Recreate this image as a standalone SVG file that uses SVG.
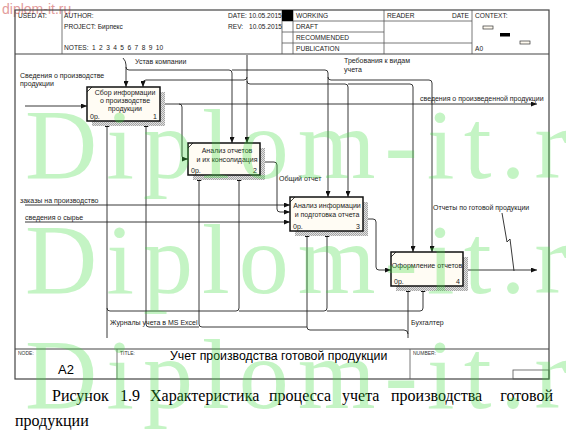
<svg xmlns="http://www.w3.org/2000/svg" width="566" height="443" viewBox="0 0 566 443">
<style>
.t{font-family:"Liberation Sans",Arial,sans-serif;font-size:7px;fill:#1a1a1a}
.h{font-family:"Liberation Sans",Arial,sans-serif;font-size:6.6px;fill:#1a1a1a}
.s{font-family:"Liberation Sans",Arial,sans-serif;font-size:5px;fill:#333}
.c{font-family:"Liberation Serif","Times New Roman",serif;font-size:16px;fill:#000}
.fr{fill:none;stroke:#444;stroke-width:1.2}
.ln{fill:none;stroke:#555;stroke-width:0.8}
.box{fill:#fffcf4;stroke:#111;stroke-width:1.5}
.a{fill:none;stroke:#222;stroke-width:0.9;marker-end:url(#ah)}
.p{fill:none;stroke:#222;stroke-width:0.9}
.wm{font-family:"Liberation Serif","Times New Roman",serif;font-size:100px;letter-spacing:9px;fill:#3cdc3c;fill-opacity:0.3}
</style>
<defs>
<marker id="ah" markerUnits="userSpaceOnUse" markerWidth="6" markerHeight="5" refX="6" refY="2.5" orient="auto"><path d="M0,0 L6,2.5 L0,5 z" fill="#111"/></marker>
<pattern id="hatch" width="2" height="2" patternUnits="userSpaceOnUse"><rect width="2" height="2" fill="#e2e2e2"/><rect width="1" height="1" fill="#a5a5a5"/><rect x="1" y="1" width="1" height="1" fill="#a5a5a5"/></pattern>
</defs>
<rect width="566" height="443" fill="#ffffff"/>
<text x="2" y="14" font-family="'Liberation Sans',Arial,sans-serif" font-size="14" fill="#e39c9c">diplom-it.ru</text>
<g id="frame">
<rect x="15" y="10" width="534" height="369" fill="#fffaf0" class="fr"/>
<line x1="15" y1="54" x2="549" y2="54" class="fr"/>
<line x1="15" y1="349" x2="549" y2="349" class="fr"/>
<line x1="62" y1="10" x2="62" y2="54" class="ln"/>
<line x1="282" y1="10" x2="282" y2="54" class="ln"/>
<line x1="293" y1="10" x2="293" y2="54" class="ln"/>
<line x1="384" y1="10" x2="384" y2="54" class="ln"/>
<line x1="472" y1="10" x2="472" y2="54" class="ln"/>
<line x1="282" y1="21" x2="472" y2="21" class="ln"/>
<line x1="282" y1="32" x2="384" y2="32" class="ln"/>
<line x1="282" y1="43" x2="472" y2="43" class="ln"/>
<rect x="282" y="10" width="11" height="11" fill="#000"/>
<text x="18" y="18" class="h">USED AT:</text>
<text x="64" y="18" class="h">AUTHOR:</text>
<text x="64" y="28.5" class="h">PROJECT: Бирпекс</text>
<text x="64" y="50" class="h" word-spacing="1.6">NOTES: 1 2 3 4 5 6 7 8 9 10</text>
<text x="228" y="18" class="h">DATE: 10.05.2015</text>
<text x="228" y="28.5" class="h">REV: <tspan x="249">10.05.2015</tspan></text>
<text x="296" y="18" class="h">WORKING</text>
<text x="296" y="29" class="h">DRAFT</text>
<text x="296" y="40" class="h">RECOMMENDED</text>
<text x="296" y="51" class="h">PUBLICATION</text>
<text x="387" y="18" class="h">READER</text>
<text x="469" y="18" class="h" text-anchor="end">DATE</text>
<text x="475" y="18" class="h">CONTEXT:</text>
<text x="475" y="51" class="h">A0</text>
<rect x="483" y="26" width="10" height="3" fill="#fffaf0" stroke="#333" stroke-width="0.7"/>
<rect x="500" y="33" width="10" height="3.5" fill="#000"/>
<rect x="520" y="41" width="10" height="3" fill="#fffaf0" stroke="#333" stroke-width="0.7"/>
<line x1="117" y1="349" x2="117" y2="379" class="ln"/>
<line x1="410" y1="349" x2="410" y2="379" class="ln"/>
<text x="18" y="355" class="s">NODE:</text>
<text x="120" y="355" class="s">TITLE:</text>
<text x="413" y="355" class="s">NUMBER:</text>
<text x="58" y="374" font-family="'Liberation Sans',Arial,sans-serif" font-size="13" fill="#000">A2</text>
<text x="170" y="360" font-family="'Liberation Sans',Arial,sans-serif" font-size="12.3" fill="#000">Учет производства готовой  продукции</text>
<rect x="513" y="370" width="36" height="9" fill="none" stroke="#555" stroke-width="0.8"/>
</g>
<g id="connectors">
<path class="a" d="M25,106 H87"/>
<path class="a" d="M160,104 H537"/>
<path class="a" d="M179,104 Q182,104 182,107 V156 Q182,159 185,159 H188"/>
<path class="a" d="M260,162 H274 Q277,162 277,165 V209 Q277,212 280,212 H290"/>
<path class="a" d="M25,205 H290"/>
<path class="a" d="M25,222 H290"/>
<path class="a" d="M363,219 H373 Q376,219 376,222 V267 Q376,270 379,270 H391"/>
<path class="a" d="M463,270 H537"/>
<path class="p" d="M502,213 L507,242 L510,239 L514,271"/>
<path class="a" d="M123,58 Q126,61 126,65 V87"/>
<path class="a" d="M126,67 Q126,70 129,70 H229 Q232,70 232,73 V143"/>
<path class="a" d="M232,70 H325 Q328,70 328,73 V197"/>
<path class="a" d="M328,77 Q328,80 331,80 H429 Q432,80 432,83 V252"/>
<path class="a" d="M247,55 V143"/>
<path class="a" d="M247,77 Q247,80 244,80 H146 Q143,80 143,83 V87"/>
<path class="a" d="M247,81 Q247,84 250,84 H345 Q348,84 348,87 V197"/>
<path class="a" d="M348,84 H410 Q413,84 413,87 V252"/>
<path class="a" d="M107,338 V121"/>
<path class="a" d="M107,308 Q107,311 110,311 H236 Q239,311 239,308 V175"/>
<path class="a" d="M239,311 H324 Q327,311 327,308 V231"/>
<path class="a" d="M327,311 H420 Q423,311 423,308 V286"/>
<path class="a" d="M408,338 V286"/>
<path class="a" d="M408,334 Q408,330 404,330 H310 Q307,330 307,327 V231"/>
<path class="a" d="M307,327 H202 Q199,327 199,324 V175"/>
<path class="a" d="M199,327 H149 Q146,327 146,324 V121"/>
<text x="20" y="78" class="t">Сведения о производстве</text>
<text x="20" y="86" class="t">продукции</text>
<text x="135" y="64" class="t">Устав компании</text>
<text x="344" y="63" class="t">Требования к видам</text>
<text x="344" y="72" class="t">учета</text>
<text x="420" y="101" class="t">сведения о произведенной продукции</text>
<text x="279" y="181" class="t">Общий отчет</text>
<text x="20" y="203" class="t">заказы на производство</text>
<text x="25" y="220" class="t">сведения о сырье</text>
<text x="433" y="210" class="t">Отчеты по готовой продукции</text>
<text x="110" y="325" class="t">Журналы учета в MS Excel</text>
<text x="411" y="325" class="t">Бухгалтер</text>
</g>
<g id="box1">
<rect x="92" y="92" width="73" height="34" fill="url(#hatch)"/>
<rect x="87" y="87" width="73" height="34" class="box"/>
<path d="M87,92 L92,87" stroke="#111" stroke-width="0.8"/>
<text x="125" y="95" class="t" text-anchor="middle">Сбор информации</text>
<text x="125" y="103" class="t" text-anchor="middle">о производстве</text>
<text x="125" y="111" class="t" text-anchor="middle">продукции</text>
<text x="90" y="118.5" class="t">0р.</text>
<text x="157" y="118.5" class="t" text-anchor="end">1</text>
</g>
<g id="box2">
<rect x="193" y="148" width="72" height="32" fill="url(#hatch)"/>
<rect x="188" y="143" width="72" height="32" class="box"/>
<path d="M188,148 L193,143" stroke="#111" stroke-width="0.8"/>
<text x="227" y="153" class="t" text-anchor="middle">Анализ отчетов</text>
<text x="227" y="161.5" class="t" text-anchor="middle">и их консолидация</text>
<text x="191" y="172.5" class="t">0р.</text>
<text x="257" y="172.5" class="t" text-anchor="end">2</text>
</g>
<g id="box3">
<rect x="295" y="202" width="73" height="34" fill="url(#hatch)"/>
<rect x="290" y="197" width="73" height="34" class="box"/>
<path d="M290,202 L295,197" stroke="#111" stroke-width="0.8"/>
<text x="327" y="208" class="t" text-anchor="middle">Анализ информации</text>
<text x="327" y="216.5" class="t" text-anchor="middle">и подготовка отчета</text>
<text x="293" y="228.5" class="t">0р.</text>
<text x="360" y="228.5" class="t" text-anchor="end">3</text>
</g>
<g id="box4">
<rect x="396" y="257" width="72" height="34" fill="url(#hatch)"/>
<rect x="391" y="252" width="72" height="34" class="box"/>
<path d="M391,257 L396,252" stroke="#111" stroke-width="0.8"/>
<text x="427" y="268" class="t" text-anchor="middle">Оформление отчетов</text>
<text x="394" y="283.5" class="t">0р.</text>
<text x="460" y="283.5" class="t" text-anchor="end">4</text>
</g>
<g id="caption">
<text x="52" y="401" class="c">Рисунок</text>
<text x="120" y="401" class="c">1.9</text>
<text x="150" y="401" class="c">Характеристика</text>
<text x="269" y="401" class="c">процесса</text>
<text x="342" y="401" class="c">учета</text>
<text x="391" y="401" class="c">производства</text>
<text x="553" y="401" class="c" text-anchor="end">готовой</text>
<text x="15" y="426" class="c">продукции</text>
</g>
<g id="watermark">
<text x="25" y="178" class="wm">Diplom-it.ru</text>
<text x="25" y="293" class="wm">Diplom-it.ru</text>
<text x="25" y="408" class="wm">Diplom-it.ru</text>
</g>
</svg>
